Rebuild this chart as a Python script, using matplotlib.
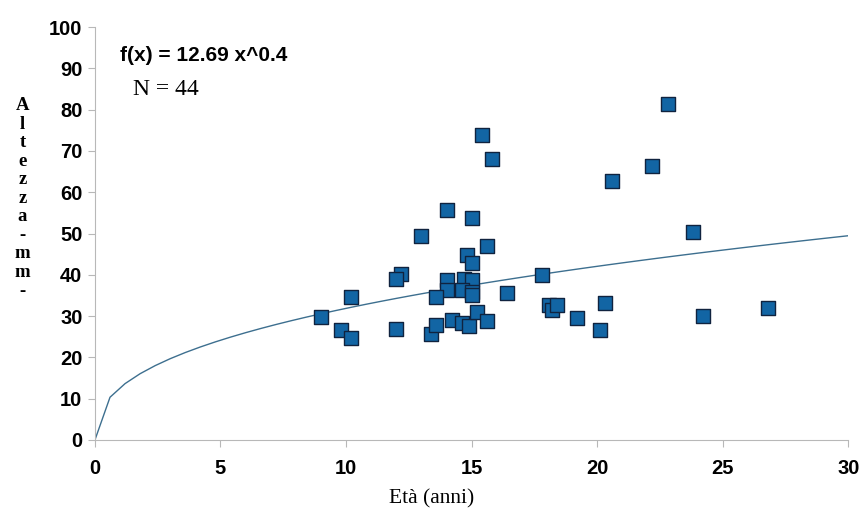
import matplotlib
matplotlib.use('Agg')
import matplotlib.pyplot as plt
import numpy as np

# eta (anni) and altezza (mm)
eta = [15.4, 15.8, 14.0, 15.0, 13.0, 15.6, 14.8, 15.0, 12.2, 12.0,
       14.0, 14.7, 15.0, 17.8, 14.0, 14.6, 15.0, 13.6, 16.4, 15.0,
       10.2, 9.0, 9.8, 10.2, 12.0, 13.4, 13.6, 14.2, 14.6, 14.9,
       15.2, 15.6, 18.1, 18.2, 18.4, 19.2, 22.8, 22.2, 20.6, 23.8,
       20.3, 20.1, 24.2, 26.8]
altezza = [73.8, 68.0, 55.7, 53.8, 49.5, 47.0, 44.9, 42.8, 40.1, 39.1,
           38.7, 39.1, 38.7, 40.0, 36.3, 36.3, 35.9, 34.7, 35.7, 35.0,
           34.7, 29.9, 26.6, 24.6, 26.8, 25.6, 27.8, 29.1, 28.4, 27.6,
           31.1, 28.9, 32.7, 31.5, 32.7, 29.5, 81.4, 66.3, 62.7, 50.3,
           33.1, 26.6, 30.1, 31.9]

# fitted curve f(x) = a x^b as printed on the chart
coef_a = 12.69
coef_b = 0.4
x_fit = np.arange(0, 30.01, 0.6)
y_fit = coef_a * x_fit ** coef_b

fig = plt.figure(figsize=(8.63, 5.11), dpi=100)
ax = fig.add_axes([0.110, 0.139, 0.873, 0.808])

ax.plot(x_fit, y_fit, color='#3d6f8f', lw=1.0, zorder=2)
ax.scatter(eta, altezza, marker='s', s=95, c='#1265a4', edgecolors='#10233f',
           linewidths=1.0, zorder=3)

ax.set_xlim(0, 30)
ax.set_ylim(0, 100)
ax.set_xticks(range(0, 31, 5))
ax.set_yticks(range(0, 101, 10))

tick_font = ['Liberation Sans', 'DejaVu Sans']
for lab in ax.get_xticklabels() + ax.get_yticklabels():
    lab.set_family(tick_font)
    lab.set_fontweight('bold')
    lab.set_fontsize(14.5)

for s in ['top', 'right']:
    ax.spines[s].set_visible(False)
for s in ['left', 'bottom']:
    ax.spines[s].set_color('#b8b8b8')
ax.tick_params(direction='out', length=5, color='#b8b8b8')
ax.tick_params(axis='x', pad=9)
ax.tick_params(axis='y', pad=4)

fig.text(0.5, 0.024, 'Età (anni)', ha='center', va='center',
         family=['Liberation Serif', 'DejaVu Serif'], fontsize=15.5)
fig.text(0.026, 0.612, 'A\nl\nt\ne\nz\nz\na\n-\nm\nm\n-', ha='center', va='center',
         family=['Liberation Serif', 'DejaVu Serif'], fontweight='bold', fontsize=13.5,
         linespacing=1.12)

ax.text(0.033, 0.93, 'f(x) = 12.69 x^0.4', transform=ax.transAxes,
        family=['Liberation Sans', 'DejaVu Sans'], fontweight='bold', fontsize=15,
        va='center')
ax.text(0.05, 0.85, 'N = 44', transform=ax.transAxes,
        family=['Liberation Serif', 'DejaVu Serif'], fontsize=17, va='center')

fig.savefig('out.png', dpi=100)
